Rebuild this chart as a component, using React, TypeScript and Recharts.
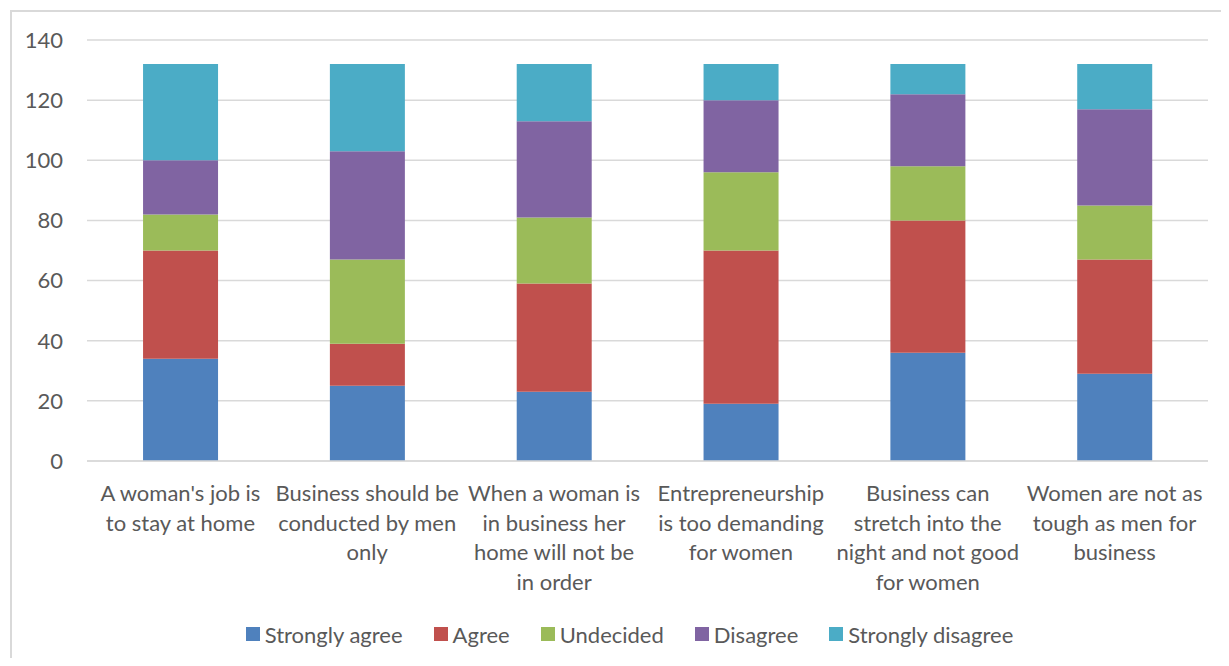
import React from 'react';
import { BarChart, Bar, XAxis, YAxis, CartesianGrid, Legend } from 'recharts';

// category labels, with the line breaks used in the original chart
const categories = [
  "A woman's job is\nto stay at home",
  'Business should be\nconducted by men\nonly',
  'When a woman is\nin business her\nhome will not be\nin order',
  'Entrepreneurship\nis too demanding\nfor women',
  'Business can\nstretch into the\nnight and not good\nfor women',
  'Women are not as\ntough as men for\nbusiness',
];

const stronglyAgree = [34, 25, 23, 19, 36, 29];
const agree = [36, 14, 36, 51, 44, 38];
const undecided = [12, 28, 22, 26, 18, 18];
const disagree = [18, 36, 32, 24, 24, 32];
const stronglyDisagree = [32, 29, 19, 12, 10, 15];

const yTicks = [0, 20, 40, 60, 80, 100, 120, 140];

const series = [
  { key: 'sa', name: 'Strongly agree', color: '#4F81BD', values: stronglyAgree },
  { key: 'a', name: 'Agree', color: '#C0504D', values: agree },
  { key: 'u', name: 'Undecided', color: '#9BBB59', values: undecided },
  { key: 'd', name: 'Disagree', color: '#8064A2', values: disagree },
  { key: 'sd', name: 'Strongly disagree', color: '#4BACC6', values: stronglyDisagree },
];

const data = categories.map((label, i) => {
  const row: Record<string, string | number> = { label };
  series.forEach((s) => {
    row[s.key] = s.values[i];
  });
  return row;
});

const FONT = 'Lato, "Open Sans", sans-serif';
const FONT_SIZE = 22;
const TEXT_COLOR = '#595959';

const CategoryTick = (props: any) => {
  const { x, y, payload } = props;
  const lines = String(payload.value).split('\n');
  return (
    <text x={x} y={y} textAnchor="middle" fill={TEXT_COLOR} fontSize={FONT_SIZE} fontFamily={FONT}>
      {lines.map((line, i) => (
        <tspan key={i} x={x} dy={i === 0 ? 40 : 29.5}>
          {line}
        </tspan>
      ))}
    </text>
  );
};

const renderLegend = () => (
  <div
    style={{
      display: 'flex',
      justifyContent: 'center',
      alignItems: 'center',
      height: 30,
      paddingLeft: 30,
      fontFamily: FONT,
      fontSize: FONT_SIZE,
      color: TEXT_COLOR,
    }}
  >
    {series.map((s, i) => (
      <div
        key={s.key}
        style={{ display: 'flex', alignItems: 'center', marginRight: i === series.length - 1 ? 0 : 31 }}
      >
        <span style={{ width: 14, height: 14, background: s.color, marginRight: 5, display: 'inline-block' }} />
        {s.name}
      </div>
    ))}
  </div>
);

const App: React.FC = () => {
  return (
    <div style={{ position: 'relative', width: 1213, height: 650 }}>
      <div
        style={{
          position: 'absolute',
          left: 2,
          top: 2,
          width: 1211,
          height: 648,
          borderLeft: '2px solid #d9d9d9',
          borderTop: '2px solid #d9d9d9',
          boxSizing: 'border-box',
        }}
      />
      <BarChart
        width={1213}
        height={650}
        data={data}
        margin={{ top: 32, right: 13, bottom: 27, left: 0 }}
        barCategoryGap="30%"
      >
        <CartesianGrid vertical={false} stroke="#d9d9d9" strokeWidth={1.5} />
        <XAxis
          dataKey="label"
          height={140}
          interval={0}
          tickLine={false}
          tickSize={0}
          tickMargin={0}
          axisLine={{ stroke: '#d9d9d9', strokeWidth: 1.5 }}
          tick={<CategoryTick />}
        />
        <YAxis
          width={79}
          domain={[0, 140]}
          ticks={yTicks}
          axisLine={false}
          tickLine={false}
          tickSize={0}
          tickMargin={24}
          tick={{ fill: TEXT_COLOR, fontSize: FONT_SIZE, fontFamily: FONT }}
        />
        <Legend content={renderLegend} wrapperStyle={{ left: 0, width: 1213, bottom: 9 }} />
        {series.map((s) => (
          <Bar
            key={s.key}
            dataKey={s.key}
            name={s.name}
            stackId="total"
            fill={s.color}
            isAnimationActive={false}
          />
        ))}
      </BarChart>
    </div>
  );
};

export default App;
